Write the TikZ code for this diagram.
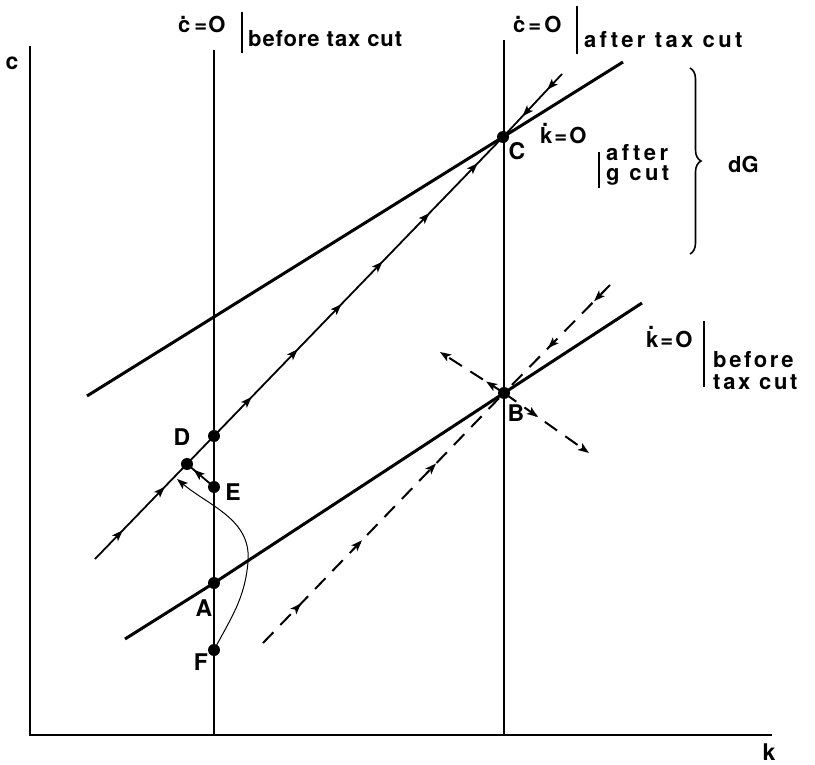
\documentclass[tikz,border=0pt]{standalone}
\usepackage{fontspec}
\setmainfont{TeX Gyre Heros}
\usetikzlibrary{arrows.meta,decorations.markings,decorations.pathreplacing}
\newcommand\dotlet[1]{\leavevmode\setbox0=\hbox{#1}\rlap{\hbox to\wd0{\hss\raisebox{\dimexpr\ht0+1pt\relax}{.}\hss\hss}}\box0}
\newcommand\lsp[2]{{\addfontfeatures{LetterSpace=#1}#2}}
\tikzset{
  axisline/.style={line width=2pt},
  vline/.style={line width=1.4pt},
  kline/.style={line width=3pt},
  spath/.style={line width=1.8pt},
  dpath/.style={line width=2pt, dash pattern=on 15pt off 10pt},
  thin curve/.style={line width=1pt},
  dotnode/.style={circle, fill, inner sep=0pt, minimum size=12pt},
  lbl/.style={font=\fontsize{22}{22}\selectfont\bfseries, inner sep=0pt},
  plbl/.style={font=\fontsize{23}{23}\selectfont\bfseries, inner sep=0pt},
  am/.style={postaction={decorate,decoration={markings,mark=at position #1 with {\arrow{Stealth[length=11pt,width=8pt,inset=2.5pt]}}}}},
  endtip/.style={-{Stealth[length=11pt,width=8pt,inset=2.5pt]}},
  bar/.style={line width=1.8pt}
}
\begin{document}
\begin{tikzpicture}[x=1pt,y=-1pt]
\useasboundingbox (0,0) rectangle (815,765);
% axes
\coordinate (O) at (30,735);
\coordinate (Ytop) at (30,46);
\coordinate (Xend) at (772,735);
\draw[axisline] (Ytop) -- (O) -- (Xend);
\node[plbl, anchor=base] (clab) at (12,70) {c};
\node[plbl, anchor=base] (klab) at (769,760) {k};
% vertical cdot=0 lines
\coordinate (v1top) at (214,50);
\coordinate (v1bot) at (214,735);
\coordinate (v2top) at (504,40);
\coordinate (v2bot) at (504,735);
\draw[vline] (v1top) -- (v1bot);
\draw[vline] (v2top) -- (v2bot);
% points
\node[dotnode] (C) at (503,137) {};
\node[dotnode] (B) at (504,393) {};
\node[dotnode] (A) at (214,583) {};
\node[dotnode] (F) at (214,650) {};
\node[dotnode] (E) at (214,487) {};
\node[dotnode] (D) at (187,464) {};
\node[dotnode] (G) at (214,436) {};
% kdot=0 lines
\coordinate (ka1) at (87,396);
\coordinate (ka2) at (623,62);
\draw[kline] (ka1) -- (C.center) -- (ka2);
\coordinate (kb1) at (125,639);
\coordinate (kb2) at (642,303);
\draw[kline] (kb1) -- (A.center) -- (B.center) -- (kb2);
% saddle path after
\coordinate (s1) at (95,559);
\coordinate (s2) at (562,74);
\draw[spath, am=0.068, am=0.171, am=0.384, am=0.497, am=0.604, am=0.705, am=0.82, am=0.938] (s1) -- (C.center);
\draw[spath, am=0.25, am=0.67] (s2) -- (C.center);
% dashed saddle before
\coordinate (d1) at (263,643);
\coordinate (d2) at (610,285);
\draw[dpath, am=0.158, am=0.411, am=0.718] (d1) -- (B.center);
\draw[dpath, am=0.15, am=0.585] (d2) -- (B.center);
\coordinate (u1) at (440,352);
\coordinate (u2) at (589,453);
\draw[dpath, am=0.28, endtip] (B.center) -- (u1);
\draw[dpath, am=0.4, endtip] (B.center) -- (u2);
% E to D
\draw[spath, am=0.75] (E.center) -- (D.center);
% curve from F
\coordinate (fend) at (177,479);
\coordinate (fmid) at (248,562);
\draw[thin curve, endtip] (F.center) to[out=62,in=-95] (fmid) to[out=85,in=-40] (fend);
% point labels
\node[plbl] (Dl) at (182,437) {D};
\node[plbl] (El) at (233,492) {E};
\node[plbl] (Al) at (204,608) {A};
\node[plbl] (Fl) at (201,662) {F};
\node[plbl] (Cl) at (517,151) {C};
\node[plbl] (Bl) at (516,413) {B};
% top-left label
\node[lbl, anchor=base west] (t1a) at (178,33) {\dotlet{c}\kern4pt=\kern1pt O};
\coordinate (b1t) at (242,12);
\coordinate (b1b) at (242,53);
\draw[bar] (b1t) -- (b1b);
\node[lbl, anchor=base west] (t1b) at (248,47) {\lsp{4}{before tax cut}};
% top-right label
\node[lbl, anchor=base west] (t2a) at (513,33) {\dotlet{c}\kern3pt=\kern3pt O};
\coordinate (b2t) at (577,6);
\coordinate (b2b) at (577,54);
\draw[bar] (b2t) -- (b2b);
\node[lbl, anchor=base west] (t2b) at (584,48) {\lsp{15}{after tax cut}};
% after g cut label
\node[lbl, anchor=base west] (t3a) at (540,144) {\dotlet{k}\kern2pt=\kern2pt O};
\coordinate (b3t) at (599,152);
\coordinate (b3b) at (599,188);
\draw[bar] (b3t) -- (b3b);
\node[lbl, anchor=base west] (t3b) at (606,161) {\lsp{16}{after}};
\node[lbl, anchor=base west] (t3c) at (606,181) {\lsp{16}{g cut}};
% before tax cut right label
\node[lbl, anchor=base west] (t4a) at (646,347) {\dotlet{k}\kern2pt=\kern2pt O};
\coordinate (b4t) at (704,321);
\coordinate (b4b) at (704,387);
\draw[bar] (b4t) -- (b4b);
\node[lbl, anchor=base west] (t4b) at (713,367) {\lsp{12}{before}};
\node[lbl, anchor=base west] (t4c) at (713,389) {\lsp{12}{tax cut}};
% brace dG
\coordinate (brt) at (690,68);
\coordinate (brb) at (690,254);
\draw[line width=1.6pt, decorate, decoration={brace, amplitude=11pt}] (brt) -- (brb);
\node[lbl, anchor=base west] (dG) at (728,173) {dG};
\end{tikzpicture}
\end{document}
